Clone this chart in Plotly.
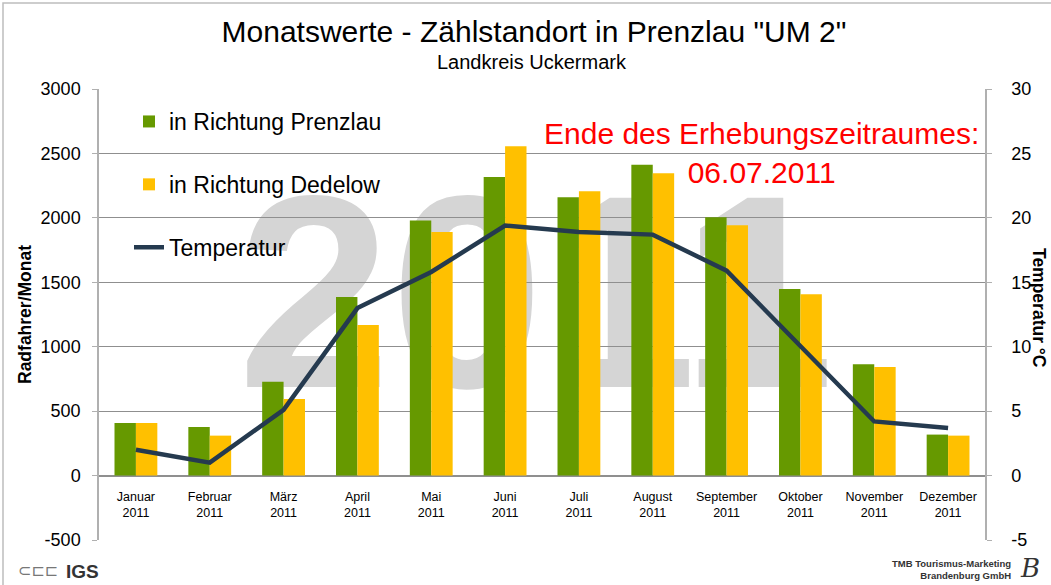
import plotly.graph_objects as go

months = ["Januar<br>2011", "Februar<br>2011", "März<br>2011", "April<br>2011", "Mai<br>2011",
          "Juni<br>2011", "Juli<br>2011", "August<br>2011", "September<br>2011",
          "Oktober<br>2011", "November<br>2011", "Dezember<br>2011"]
prenzlau = [408, 377, 729, 1385, 1979, 2318, 2160, 2413, 2005, 1447, 863, 318]
dedelow = [408, 310, 594, 1168, 1891, 2555, 2207, 2346, 1943, 1408, 843, 310]
temperatur = [2.0, 1.0, 5.1, 13.0, 15.8, 19.4, 18.9, 18.7, 15.9, 10.0, 4.2, 3.7]
left_ticks = [-500, 0, 500, 1000, 1500, 2000, 2500, 3000]
left_tick_labels = ["-500", "0", "500", "1000", "1500", "2000", "2500", "3000"]
right_ticks = [-5, 0, 5, 10, 15, 20, 25, 30]
right_tick_labels = ["-5", "0", "5", "10", "15", "20", "25", "30"]

FONT = "Liberation Sans"
W, H = 1051, 585
ml, mr, mt, mb = 99, 66, 89, 45
pw, ph = W - ml - mr, H - mt - mb


def px(x):
    return (x - ml) / pw


def py(y):
    return (H - mb - y) / ph


fig = go.Figure()
fig.add_trace(go.Bar(x=months, y=prenzlau, name="in Richtung Prenzlau",
                     marker=dict(color="#669900", line=dict(width=0)), legendgroup="a"))
fig.add_trace(go.Bar(x=months, y=dedelow, name="in Richtung Dedelow",
                     marker=dict(color="#FFC000", line=dict(width=0)), legendgroup="b"))
fig.add_trace(go.Scatter(x=months, y=temperatur, name="Temperatur", yaxis="y2",
                         mode="lines", line=dict(color="#253a4f", width=4.5), legendgroup="c"))

fig.update_layout(
    width=W, height=H,
    margin=dict(l=ml, r=mr, t=mt, b=mb, autoexpand=False),
    paper_bgcolor="white", plot_bgcolor="white",
    font=dict(family=FONT, color="black"),
    barmode="group", bargap=0.42, bargroupgap=0,
    showlegend=True,
    legend=dict(x=px(129), y=py(100), xanchor="left", yanchor="top",
                font=dict(size=23, family=FONT, color="black"),
                bgcolor="rgba(0,0,0,0)", tracegroupgap=30, traceorder="grouped"),
    title=dict(text="Monatswerte - Zählstandort in Prenzlau \"UM 2\"",
               x=px(534), xanchor="center", xref="paper", y=1 - 31 / H, yanchor="middle",
               font=dict(size=30, family=FONT, color="black")),
    xaxis=dict(anchor="free", position=500 / 3500, showline=False, ticks="",
               tickfont=dict(size=12.5, family=FONT, color="black"), showgrid=False,
               ticklabelstandoff=12),
    yaxis=dict(range=[-500, 3000], tickvals=left_ticks, ticktext=left_tick_labels,
               showgrid=True, gridcolor="#8f8f8f",
               gridwidth=1, zeroline=True, zerolinecolor="#8f8f8f", zerolinewidth=1.5,
               showline=True, linecolor="#b0b0b0", linewidth=1.5,
               ticks="outside", ticklen=5, tickcolor="#b0b0b0", ticklabelstandoff=8,
               tickfont=dict(size=18, family=FONT, color="black"),
               title=dict(text="<b>Radfahrer/Monat</b>", font=dict(size=17.5, family=FONT),
                          standoff=4)),
    yaxis2=dict(range=[-5, 30], tickvals=right_ticks, ticktext=right_tick_labels,
                overlaying="y", side="right",
                showgrid=False, zeroline=False, showline=True, linecolor="#b0b0b0",
                linewidth=1.5, ticks="outside", ticklen=5, tickcolor="#b0b0b0",
                ticklabelstandoff=16,
                tickfont=dict(size=18, family=FONT, color="black")),
)

# Watermark "2011" behind gridlines
fig.add_shape(type="rect", xref="paper", yref="paper", x0=px(250), x1=px(822),
              y0=py(369), y1=py(162), line=dict(width=0), fillcolor="rgba(0,0,0,0)",
              layer="below",
              label=dict(text="2011", textposition="middle center",
                         font=dict(size=275, family=FONT, color="#d5d5d5", weight="bold")))

# Outer border
fig.add_shape(type="rect", xref="paper", yref="paper", x0=px(3), x1=px(1060),
              y0=py(600), y1=py(3), line=dict(color="#bdbdbd", width=1.5), layer="below")

fig.add_annotation(text="Landkreis Uckermark", xref="paper", yref="paper",
                   x=px(532), y=py(62), xanchor="center", yanchor="middle", showarrow=False,
                   font=dict(size=20, family=FONT, color="black"))
fig.add_annotation(text="Ende des Erhebungszeitraumes:<br>06.07.2011", xref="paper", yref="paper",
                   x=px(761), y=py(153), xanchor="center", yanchor="middle",
                   showarrow=False, align="center",
                   font=dict(size=30, family=FONT, color="#ff0000"))
fig.add_annotation(text="<b>Temperatur °C</b>", xref="paper", yref="paper",
                   x=px(1039), y=py(308), xanchor="center", yanchor="middle",
                   showarrow=False, textangle=90,
                   font=dict(size=17.5, family=FONT, color="black"))
fig.add_annotation(text="<b>IGS</b>", xref="paper", yref="paper",
                   x=px(82), y=py(571), xanchor="center", yanchor="middle", showarrow=False,
                   font=dict(size=19, family=FONT, color="#333333"))
fig.add_annotation(text="⊂⊏⊏", xref="paper", yref="paper",
                   x=px(38), y=py(570), xanchor="center", yanchor="middle", showarrow=False,
                   font=dict(size=16, family="DejaVu Sans", color="#777777"))
fig.add_annotation(text="<b>TMB Tourismus-Marketing<br>Brandenburg GmbH</b>", xref="paper",
                   yref="paper", x=px(1013), y=py(569), xanchor="right", yanchor="middle",
                   showarrow=False, align="right",
                   font=dict(size=9.5, family=FONT, color="#333333"))
fig.add_annotation(text="<i>B</i>", xref="paper", yref="paper",
                   x=px(1030), y=py(568), xanchor="center", yanchor="middle", showarrow=False,
                   font=dict(size=26, family="DejaVu Serif", color="#333333"))

fig.write_html("out.html", config={"displayModeBar": False},
               post_script="document.body.style.margin='0';")
